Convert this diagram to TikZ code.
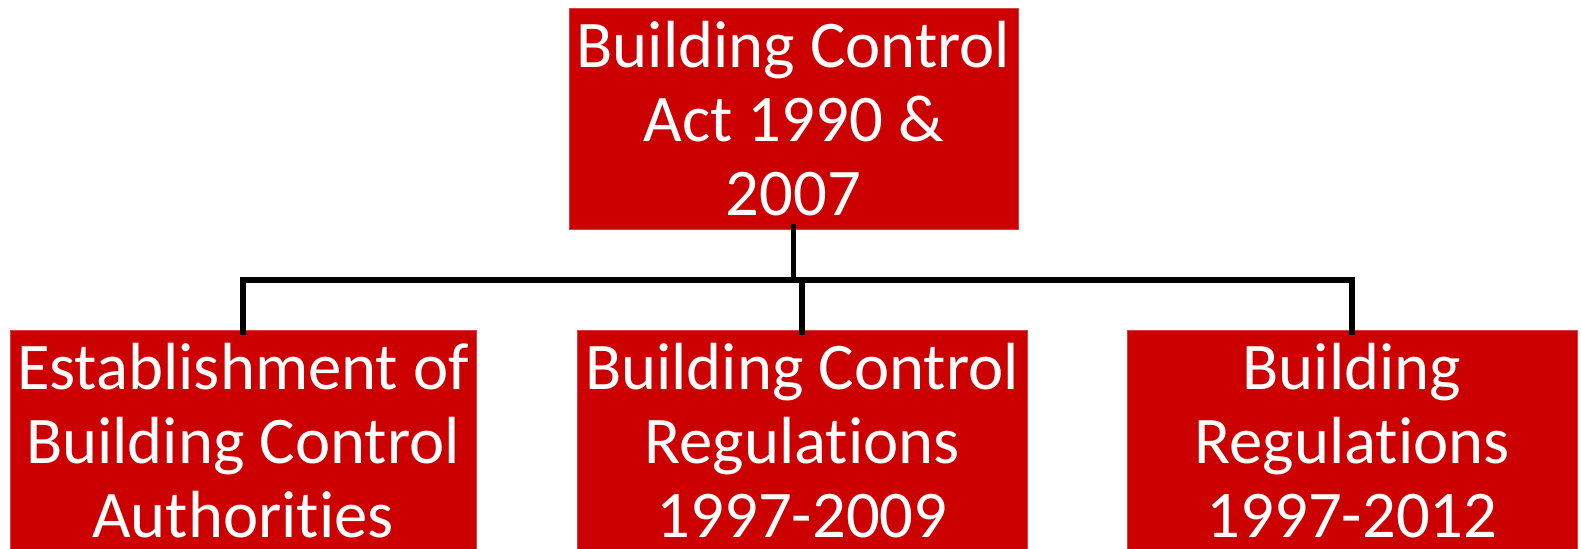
\documentclass[tikz,border=0pt]{standalone}
\usepackage{fontspec}
\setmainfont{Carlito}[Ligatures=NoCommon]
\definecolor{boxred}{RGB}{204,0,0}
\tikzset{every picture/.style={line width=0.75pt}}
\tikzset{
  redbox/.style={rectangle, fill=boxred, draw=boxred!75!white, line width=0.5pt,
    text=white, align=center, inner sep=0pt, minimum height=165.75pt,
    font=\fontsize{50}{55.2}\selectfont},
  link/.style={draw=black, line width=4pt, line join=miter}
}
\begin{document}
\begin{tikzpicture}[x=0.75pt,y=0.75pt,yscale=-1,xscale=1]
\useasboundingbox (0,0) rectangle (1581,549);
\clip (0,0) rectangle (1581,549);

%Shape: Rectangle [top]
\draw (793.5,118.5) node [redbox, minimum width=336.75pt] (act) {Building Control\\Act 1990 \&\\2007};
%Shape: Rectangle [children]
\draw (243,440.5) node [redbox, minimum width=349.5pt] (auth) {Establishment of\\Building Control\\Authorities};
\draw (802,440.5) node [redbox, minimum width=337.5pt] (regs) {Building Control\\Regulations\\1997-2009};
\draw (1352,440.5) node [redbox, minimum width=337.5pt] (blds) {Building\\Regulations\\1997-2012};

%Straight Lines
\coordinate (bus) at (797,280);
\draw [link] ([yshift=-4.2pt]act.south) -- (act.south |- bus);
\draw [link] ([yshift=4.2pt]auth.north) |- (bus) -| ([yshift=4.2pt]blds.north);
\draw [link] (regs.north |- bus) -- ([yshift=4.2pt]regs.north);

\end{tikzpicture}
\end{document}
